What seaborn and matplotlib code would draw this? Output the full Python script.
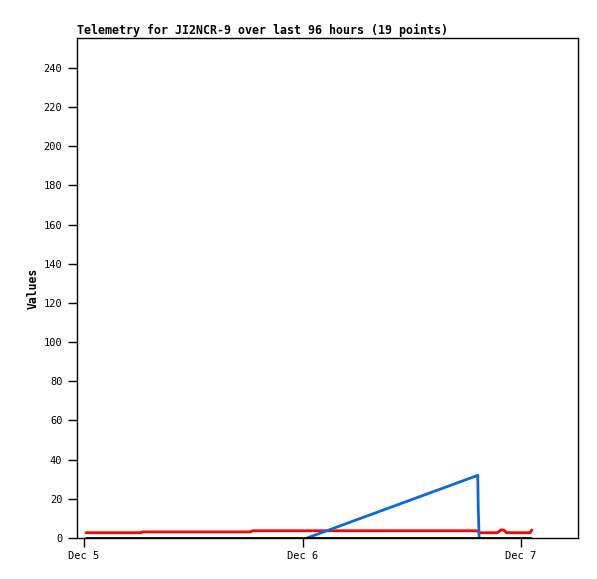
import matplotlib
matplotlib.use("Agg")
import matplotlib.pyplot as plt
import seaborn as sns
import pandas as pd

sns.set_theme(style="ticks")
plt.rcParams['font.family'] = ['DejaVu Sans Mono']
plt.rcParams['text.color'] = 'black'
plt.rcParams['axes.labelcolor'] = 'black'
plt.rcParams['xtick.color'] = 'black'
plt.rcParams['ytick.color'] = 'black'

base = pd.Timestamp("2023-12-05 00:00")

# hours since Dec 5 00:00, values
red_hours = [0.22, 6.2, 6.4, 18.3, 18.5, 43.2, 43.4, 45.4, 45.8, 46.1, 46.4, 49.0, 49.2]
red_vals = [2.7, 2.7, 3.1, 3.1, 3.7, 3.7, 2.7, 2.7, 4.1, 4.1, 2.7, 2.7, 4.1]

blue_hours = [24.5, 43.25, 43.3, 43.4]
blue_vals = [0, 32, 16, 0]

black_hours = [0.22, 49.1]
black_vals = [0, 0]

title = "Telemetry for JI2NCR-9 over last 96 hours (19 points)"
y_ticks = list(range(0, 241, 20))
x_tick_labels = ["Dec 5", "Dec 6", "Dec 7"]

def to_df(h, v):
    return pd.DataFrame({"t": [base + pd.Timedelta(hours=x) for x in h], "v": v})

fig = plt.figure(figsize=(5.97, 5.79), dpi=100)
ax = fig.add_axes([77/597, 1-538/579, (578-77)/597, (538-38)/579])

sns.lineplot(data=to_df(red_hours, red_vals), x="t", y="v", ax=ax, color="#ff0000", lw=2, sort=False)
sns.lineplot(data=to_df(blue_hours, blue_vals), x="t", y="v", ax=ax, color="#0a6ad6", lw=2, sort=False)
sns.lineplot(data=to_df(black_hours, black_vals), x="t", y="v", ax=ax, color="#000000", lw=2, sort=False)

ax.set_ylim(0, 255.3)
ax.set_xlim(base + pd.Timedelta(hours=-0.77), base + pd.Timedelta(hours=54.26))
ax.set_yticks(y_ticks)
ax.set_yticklabels([str(v) for v in y_ticks], fontsize=7.5)
xt = [base + pd.Timedelta(days=i) for i in range(3)]
ax.set_xticks(xt)
ax.set_xticklabels(x_tick_labels, fontsize=7.5)
ax.tick_params(axis='both', direction='out', length=6.5, width=1, color='black', pad=4)
ax.tick_params(axis='x', pad=3)
for s in ax.spines.values():
    s.set_color('black')
    s.set_linewidth(1)
ax.set_xlabel("")
ax.set_ylabel("Values", fontsize=8.3, fontweight='bold', labelpad=3)
ax.set_title(title, loc='left', fontsize=8.35, fontweight='bold', pad=3)

fig.savefig("out.png", dpi=100)
